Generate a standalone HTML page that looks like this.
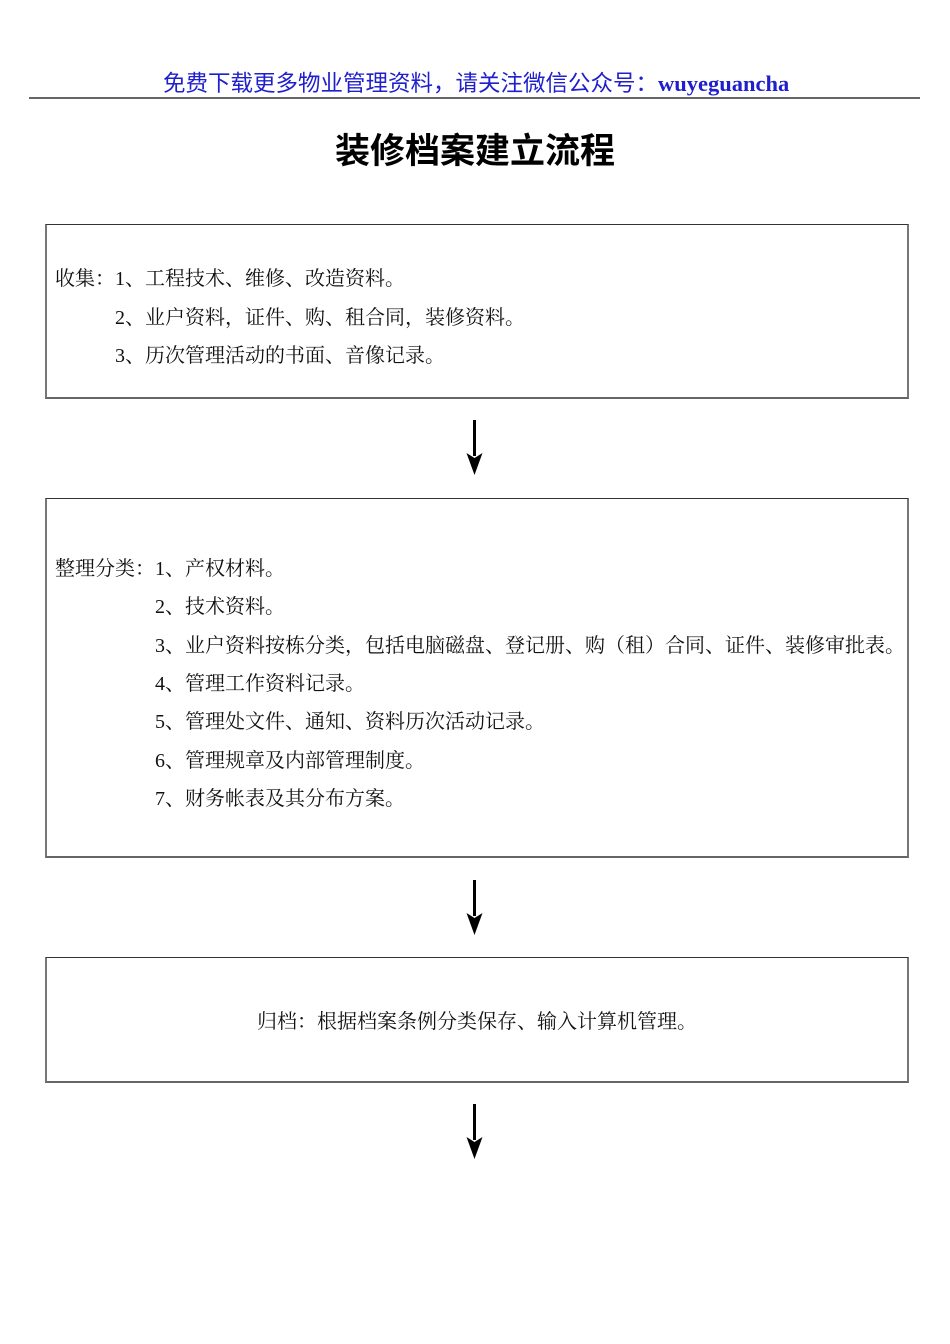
<!DOCTYPE html>
<html>
<head>
<meta charset="utf-8">
<style>
  html,body{margin:0;padding:0;background:#fff;}
  body{width:950px;height:1344px;position:relative;overflow:hidden;}
  .hdr{position:absolute;left:163px;top:69px;height:26px;line-height:26px;white-space:nowrap;
       font-family:"Noto Sans CJK SC","Liberation Sans",sans-serif;font-size:22.5px;color:#1f1fcc;}
  .hdr b{font-family:"Liberation Serif",serif;font-weight:bold;}
  .rule{position:absolute;left:29px;top:97px;width:891px;height:2px;background:#666;}
  .title{position:absolute;left:0;width:950px;top:127px;height:44px;line-height:44px;text-align:center;
         font-family:"Noto Sans CJK SC","Liberation Sans",sans-serif;font-weight:bold;font-size:35px;color:#000;}
  .box{position:absolute;left:45px;width:864px;box-sizing:border-box;
       border-top:1px solid #333;border-bottom:2px solid #666;border-left:2px solid #777;border-right:2px solid #777;}
  .t{position:absolute;height:24px;line-height:24px;white-space:nowrap;
     font-family:"Noto Serif CJK SC","Liberation Serif",serif;font-size:20px;color:#111;}
  .t i{font-style:normal;font-family:"Liberation Serif",serif;}
  u{text-decoration:none;display:inline-block;width:1em;text-align:left;}
</style>
</head>
<body>
<div class="hdr">免费下载更多物业管理资料<u>，</u>请关注微信公众号<u>：</u><b>wuyeguancha</b></div>
<div class="rule"></div>
<div class="title">装修档案建立流程</div>

<div class="box" style="top:224px;height:175px;"></div>
<div class="t" style="left:55px;top:265px;">收集<u>：</u><i>1</i>、工程技术、维修、改造资料。</div>
<div class="t" style="left:115px;top:304px;"><i>2</i>、业户资料<u>，</u>证件、购、租合同<u>，</u>装修资料。</div>
<div class="t" style="left:115px;top:342px;"><i>3</i>、历次管理活动的书面、音像记录。</div>

<div class="box" style="top:498px;height:360px;"></div>
<div class="t" style="left:55px;top:555px;">整理分类<u>：</u><i>1</i>、产权材料。</div>
<div class="t" style="left:155px;top:593px;"><i>2</i>、技术资料。</div>
<div class="t" style="left:155px;top:632px;"><i>3</i>、业户资料按栋分类<u>，</u>包括电脑磁盘、登记册、购<u>（</u>租<u>）</u>合同、证件、装修审批表。</div>
<div class="t" style="left:155px;top:670px;"><i>4</i>、管理工作资料记录。</div>
<div class="t" style="left:155px;top:708px;"><i>5</i>、管理处文件、通知、资料历次活动记录。</div>
<div class="t" style="left:155px;top:747px;"><i>6</i>、管理规章及内部管理制度。</div>
<div class="t" style="left:155px;top:785px;"><i>7</i>、财务帐表及其分布方案。</div>

<div class="box" style="top:957px;height:126px;"></div>
<div class="t" style="left:45px;width:864px;text-align:center;top:1008px;">归档<u>：</u>根据档案条例分类保存、输入计算机管理。</div>

<svg width="950" height="1344" style="position:absolute;left:0;top:0;" xmlns="http://www.w3.org/2000/svg">
  <g fill="#000" stroke="none">
    <rect x="473" y="420" width="3" height="36"/>
    <polygon points="466.5,453 474.5,458 482.5,453 474.5,475"/>
    <rect x="473" y="880" width="3" height="36"/>
    <polygon points="466.5,913 474.5,918 482.5,913 474.5,935"/>
    <rect x="473" y="1104" width="3" height="36"/>
    <polygon points="466.5,1137 474.5,1142 482.5,1137 474.5,1159"/>
  </g>
</svg>
</body>
</html>
